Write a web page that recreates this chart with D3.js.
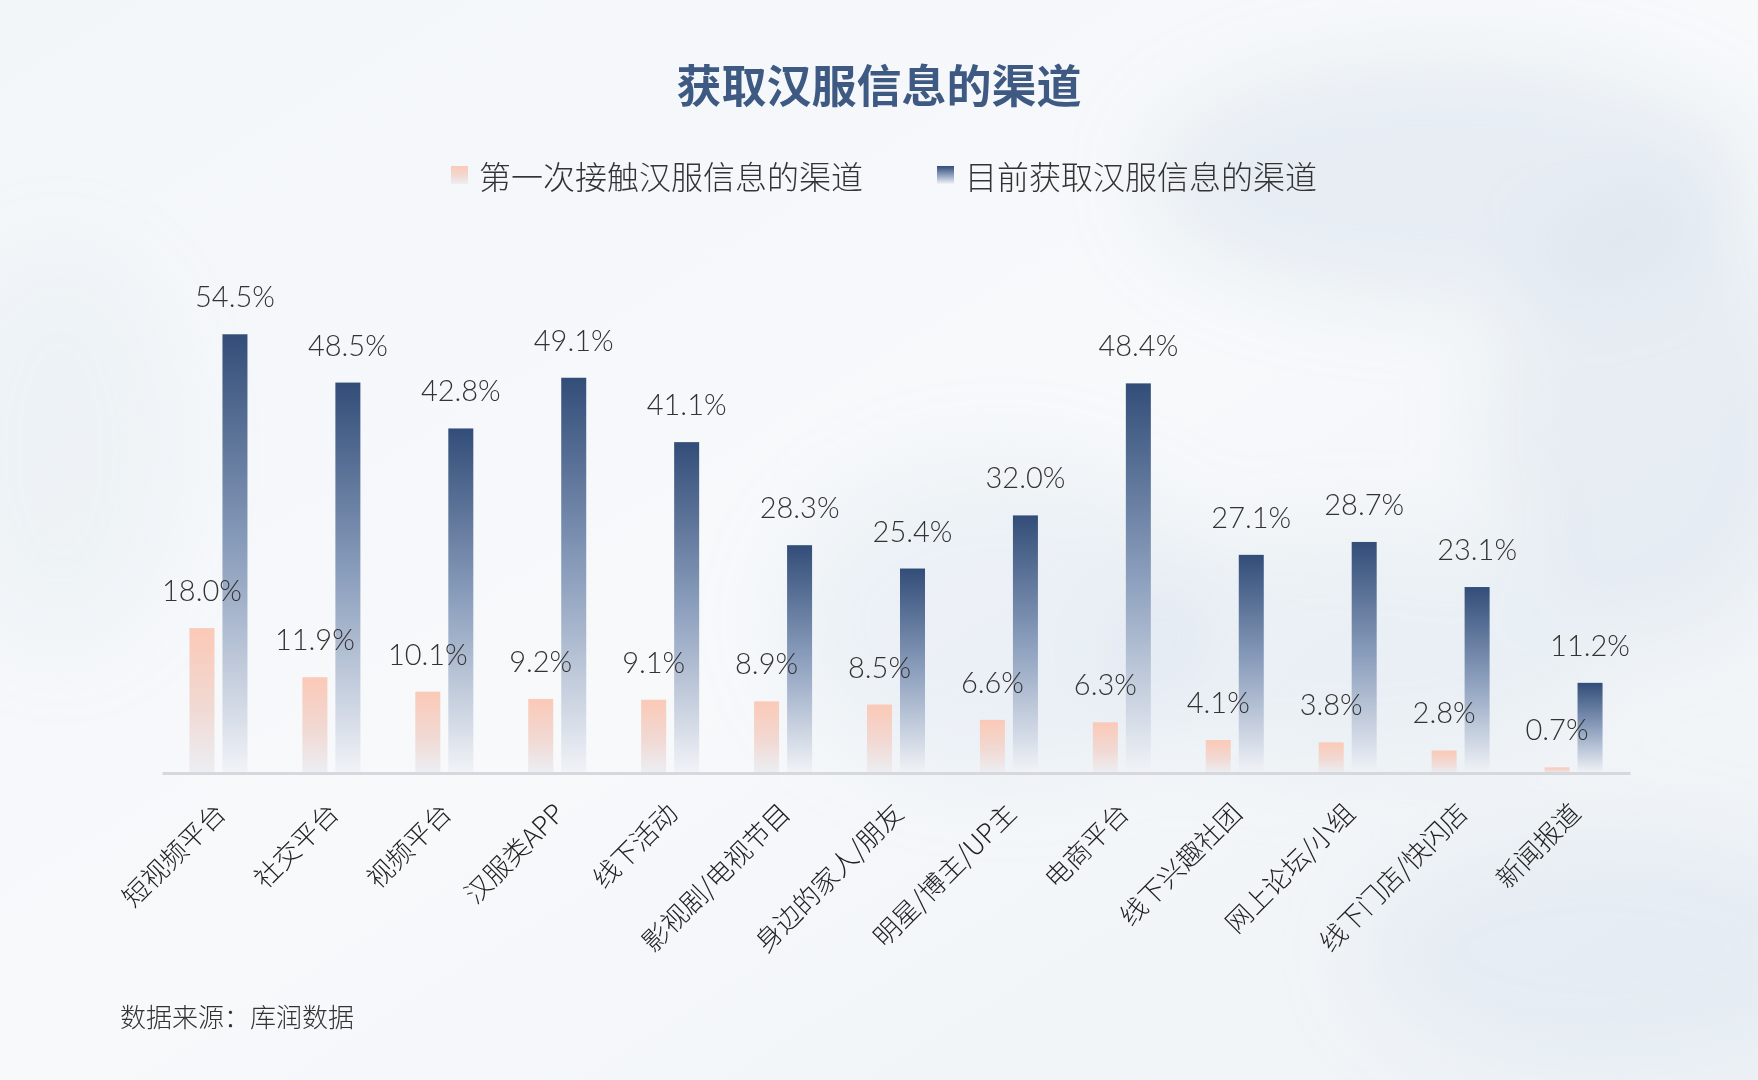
<!DOCTYPE html>
<html>
<head>
<meta charset="utf-8">
<script src="https://cdn.jsdelivr.net/npm/d3@7/dist/d3.min.js"></script>
<style>
  html, body { margin: 0; padding: 0; }
  body { width: 1758px; height: 1080px; overflow: hidden; background: #f5f7fa; }
  svg { display: block; }
  .cjk { font-family: "Noto Sans CJK SC", "Noto Sans", sans-serif; }
  .num { font-family: "Lato", "Noto Sans", sans-serif; font-weight: 300; }
</style>
</head>
<body>
<svg id="chart" width="1758" height="1080"></svg>
<script>
// data
var categories = ["短视频平台", "社交平台", "视频平台", "汉服类APP", "线下活动", "影视剧/电视节目",
                  "身边的家人/朋友", "明星/博主/UP主", "电商平台", "线下兴趣社团", "网上论坛/小组",
                  "线下门店/快闪店", "新闻报道"];
var firstContact = [18.0, 11.9, 10.1, 9.2, 9.1, 8.9, 8.5, 6.6, 6.3, 4.1, 3.8, 2.8, 0.7];
var currentUse = [54.5, 48.5, 42.8, 49.1, 41.1, 28.3, 25.4, 32.0, 48.4, 27.1, 28.7, 23.1, 11.2];
var seriesNames = ["第一次接触汉服信息的渠道", "目前获取汉服信息的渠道"];
var seriesKeys = ["first", "current"];

var rows = categories.map(function (c, i) {
    return {name: c, first: firstContact[i], current: currentUse[i]};
});

var svg = d3.select("#chart");
var defs = svg.append("defs");

// background wash
var bg = defs.append("linearGradient").attr("id", "bg")
    .attr("x1", 0).attr("y1", 0).attr("x2", 1).attr("y2", 1);
bg.append("stop").attr("offset", 0).attr("stop-color", "#f3f6f9");
bg.append("stop").attr("offset", 0.5).attr("stop-color", "#f7f9fb");
bg.append("stop").attr("offset", 1).attr("stop-color", "#eef2f6");

defs.append("filter").attr("id", "blur")
    .attr("x", "-50%").attr("y", "-50%").attr("width", "200%").attr("height", "200%")
    .append("feGaussianBlur").attr("stdDeviation", 40);

var gradBlue = defs.append("linearGradient").attr("id", "gBlue")
    .attr("x1", 0).attr("y1", 0).attr("x2", 0).attr("y2", 1);
gradBlue.append("stop").attr("offset", 0).attr("stop-color", "#324d78");
gradBlue.append("stop").attr("offset", 0.5).attr("stop-color", "#8c9fbd");
gradBlue.append("stop").attr("offset", 1).attr("stop-color", "#f1f3f7");

var gradPink = defs.append("linearGradient").attr("id", "gPink")
    .attr("x1", 0).attr("y1", 0).attr("x2", 0).attr("y2", 1);
gradPink.append("stop").attr("offset", 0).attr("stop-color", "#fbc9b7");
gradPink.append("stop").attr("offset", 0.55).attr("stop-color", "#f1d9d3");
gradPink.append("stop").attr("offset", 1).attr("stop-color", "#eceef3");

svg.append("rect").attr("width", 1758).attr("height", 1080).attr("fill", "url(#bg)");

// soft ink-like blobs
var blobs = svg.append("g").attr("filter", "url(#blur)");
[[1450, 180, 300, 120, 0.35], [1650, 420, 160, 220, 0.3], [1000, 620, 220, 160, 0.22],
 [1350, 650, 260, 120, 0.2], [60, 450, 120, 200, 0.15], [1600, 950, 240, 120, 0.25]].forEach(function (b) {
    blobs.append("ellipse").attr("cx", b[0]).attr("cy", b[1]).attr("rx", b[2]).attr("ry", b[3])
        .attr("fill", "#c9d7e6").attr("opacity", b[4]);
});

var color = d3.scaleOrdinal().domain(seriesKeys).range(["url(#gPink)", "url(#gBlue)"]);

var x0 = d3.scaleBand().domain(categories).range([162, 1630]).padding(0);
var bw = x0.bandwidth();
var x1 = d3.scaleBand().domain(seriesKeys)
    .range([bw / 2 - 29, bw / 2 + 29]).paddingInner(0.2424).paddingOuter(0);
var y = d3.scaleLinear().domain([0, 60]).range([773, 290]);

// title
svg.append("text").attr("class", "cjk")
    .attr("x", 879).attr("y", 83).attr("text-anchor", "middle").attr("dominant-baseline", "central")
    .attr("font-size", 45).attr("font-weight", 700).attr("fill", "#3e5a82")
    .text("获取汉服信息的渠道");

// legend
var legendX = [451, 937];
var legend = svg.selectAll(".legend").data(seriesKeys).enter().append("g")
    .attr("class", "legend")
    .attr("transform", function (d, i) { return "translate(" + legendX[i] + ",166)"; });
legend.append("rect").attr("width", 17).attr("height", 18).attr("fill", color);
legend.append("text").attr("class", "cjk")
    .attr("x", 28).attr("y", 9).attr("dominant-baseline", "central")
    .attr("font-size", 32).attr("font-weight", 300).attr("fill", "#333")
    .text(function (d, i) { return seriesNames[i]; });

// bars
var groups = svg.append("g").selectAll("g").data(rows).enter().append("g")
    .attr("transform", function (d) { return "translate(" + x0(d.name) + ",0)"; });

groups.selectAll("rect").data(function (d) {
        return seriesKeys.map(function (k) { return {key: k, value: d[k]}; });
    }).enter().append("rect")
    .attr("x", function (d) { return x1(d.key); })
    .attr("y", function (d) { return y(d.value); })
    .attr("width", x1.bandwidth())
    .attr("height", function (d) { return y(0) - y(d.value); })
    .attr("fill", function (d) { return color(d.key); });

groups.selectAll("text.val").data(function (d) {
        return seriesKeys.map(function (k) { return {key: k, value: d[k]}; });
    }).enter().append("text")
    .attr("class", "val num")
    .attr("x", function (d) { return x1(d.key) + x1.bandwidth() / 2; })
    .attr("y", function (d) { return y(d.value) - 27; })
    .attr("text-anchor", "middle")
    .attr("font-size", 29).attr("fill", "#333")
    .text(function (d) { return d.value.toFixed(1) + "%"; });

// x axis
var xAxis = svg.append("g").attr("transform", "translate(0,773)")
    .call(d3.axisBottom(x0).tickSize(0).tickPadding(0));
xAxis.select(".domain").attr("stroke", "#d5d8dd").attr("stroke-width", 3);
xAxis.selectAll(".tick text")
    .attr("class", "cjk")
    .attr("font-size", 26.5).attr("font-weight", 300).attr("fill", "#222")
    .attr("text-anchor", "end")
    .attr("dy", null).attr("y", 0)
    .attr("transform", "translate(9,42) rotate(-45)");

// source note
svg.append("text").attr("class", "cjk")
    .attr("x", 120).attr("y", 1015).attr("dominant-baseline", "central")
    .attr("font-size", 26).attr("font-weight", 300).attr("fill", "#333")
    .text("数据来源：库润数据");
</script>
</body>
</html>
